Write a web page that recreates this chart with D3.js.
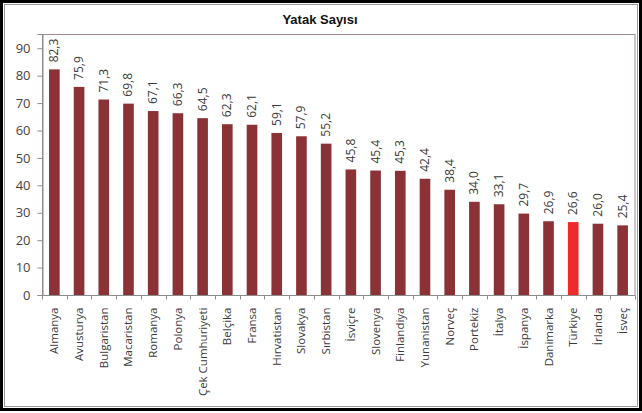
<!DOCTYPE html>
<html><head><meta charset="utf-8">
<script src="https://cdn.jsdelivr.net/npm/d3@7"></script>
<style>body{margin:0;background:#fff}svg{display:block}</style>
</head><body>
<svg id="c" width="642" height="413"></svg>
<script>
const categories = ["Almanya","Avusturya","Bulgaristan","Macaristan","Romanya","Polonya","Çek Cumhuriyeti","Belçika","Fransa","Hırvatistan","Slovakya","Sırbistan","İsviçre","Slovenya","Finlandiya","Yunanistan","Norveç","Portekiz","İtalya","İspanya","Danimarka","Türkiye","İrlanda","İsveç"];
const values = [82.3,75.9,71.3,69.8,67.1,66.3,64.5,62.3,62.1,59.1,57.9,55.2,45.8,45.4,45.3,42.4,38.4,34.0,33.1,29.7,26.9,26.6,26.0,25.4];
const yTicks = [0,10,20,30,40,50,60,70,80,90];
const highlight = "Türkiye";
const title = "Yatak Sayısı";

const data = categories.map((c, i) => ({c, v: values[i]}));
const svg = d3.select("#c");
const W = 642, H = 413;
const m = {left: 42, top: 34, right: 635, bottom: 295};

// outer frame
svg.append("rect").attr("x", 1.5).attr("y", 1.5).attr("width", W - 3).attr("height", H - 5)
  .attr("fill", "#fff").attr("stroke", "#000").attr("stroke-width", 3);
svg.append("rect").attr("x", 4.5).attr("y", 4.5).attr("width", W - 9).attr("height", H - 11)
  .attr("fill", "none").attr("stroke", "#9a9a9a").attr("stroke-width", 1);

const x = d3.scaleBand().domain(categories).range([m.left, m.right]).paddingInner(0.57).paddingOuter(0.285);
const y = d3.scaleLinear().domain([0, 95.2]).range([m.bottom, m.top]);

// plot border
svg.append("rect").attr("x", m.left + 0.5).attr("y", m.top + 0.5)
  .attr("width", m.right - m.left - 0.5).attr("height", m.bottom - m.top)
  .attr("fill", "none").attr("stroke", "#a08a8c").attr("stroke-width", 1);

// title
svg.append("text").attr("x", 320).attr("y", 24).attr("text-anchor", "middle")
  .attr("font-family", "Liberation Sans, Arial, sans-serif").attr("font-weight", "bold")
  .attr("font-size", 13).attr("fill", "#111").text(title);

// bars
svg.append("g").selectAll("rect").data(data).join("rect")
  .attr("x", d => x(d.c)).attr("width", x.bandwidth())
  .attr("y", d => y(d.v)).attr("height", d => y(0) - y(d.v))
  .attr("fill", d => d.c === highlight ? "#ee2a2a" : "#8b3236");

// y axis
const ya = svg.append("g").attr("transform", `translate(${m.left + 0.5},0)`)
  .call(d3.axisLeft(y).tickValues(yTicks).tickSize(5).tickPadding(7).tickFormat(d3.format("d")));
ya.select(".domain").attr("stroke", "#8c8c8c");
ya.selectAll(".tick line").attr("stroke", "#8c8c8c");
ya.selectAll("text").attr("font-family", "Open Sans, sans-serif").attr("font-size", 13).attr("fill", "#444");

// x axis with ticks between categories
const xa = svg.append("g").attr("transform", `translate(0,${m.bottom + 0.5})`);
xa.append("line").attr("x1", m.left).attr("x2", m.right).attr("stroke", "#8c8c8c");
const bounds = d3.range(categories.length + 1).map(i => m.left + i * (m.right - m.left) / categories.length);
xa.selectAll("line.t").data(bounds).join("line").attr("class", "t")
  .attr("x1", d => Math.round(d) + 0.5).attr("x2", d => Math.round(d) + 0.5)
  .attr("y1", 0).attr("y2", 4).attr("stroke", "#8c8c8c");

xa.selectAll("text").data(data).join("text")
  .attr("transform", d => `translate(${x(d.c) + x.bandwidth() / 2 + 4},${12}) rotate(-90)`)
  .attr("text-anchor", "end")
  .attr("font-family", "Open Sans, sans-serif").attr("font-size", 11.5).attr("fill", "#3a3a3a")
  .text(d => d.c);

// value labels
const fmt = v => v.toFixed(1).replace(".", ",");
svg.append("g").selectAll("text").data(data).join("text")
  .attr("transform", d => `translate(${x(d.c) + x.bandwidth() / 2 + 4},${y(d.v) - 7}) rotate(-90)`)
  .attr("text-anchor", "start")
  .attr("font-family", "Open Sans, sans-serif").attr("font-size", 12).attr("fill", "#3a3a3a")
  .text(d => fmt(d.v));
</script>
</body></html>
